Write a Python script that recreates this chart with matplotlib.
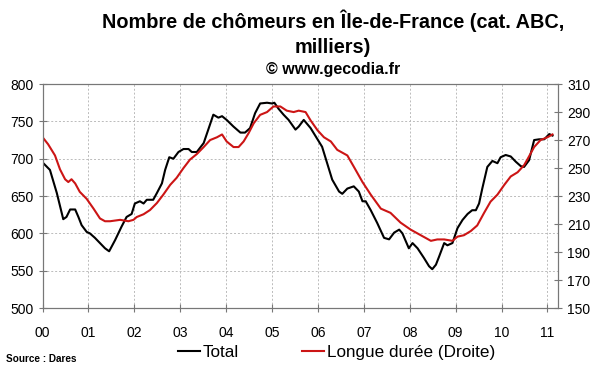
import matplotlib
matplotlib.use("Agg")
import matplotlib.pyplot as plt

plt.rcParams['font.family'] = ['Liberation Sans', 'DejaVu Sans']

# Total (axe gauche), milliers - annee depuis 2000
total_t = [0.00, 0.16, 0.31, 0.45, 0.52, 0.60, 0.71, 0.78, 0.85, 0.96, 1.03, 1.14, 1.25, 1.36,
           1.45, 1.58, 1.72, 1.83, 1.94, 2.01, 2.12, 2.20, 2.27, 2.41, 2.49, 2.60, 2.67, 2.76,
           2.85, 2.96, 3.07, 3.18, 3.25, 3.36, 3.51, 3.61, 3.72, 3.83, 3.91, 4.01, 4.16, 4.31,
           4.41, 4.52, 4.63, 4.74, 4.89, 5.00, 5.05, 5.14, 5.25, 5.36, 5.51, 5.58, 5.69, 5.84,
           5.95, 6.09, 6.20, 6.31, 6.46, 6.53, 6.64, 6.78, 6.89, 6.97, 7.04, 7.15, 7.29, 7.44,
           7.55, 7.66, 7.77, 7.84, 7.98, 8.06, 8.17, 8.31, 8.42, 8.49, 8.57, 8.64, 8.75, 8.82,
           8.93, 9.04, 9.15, 9.26, 9.36, 9.44, 9.51, 9.58, 9.69, 9.80, 9.91, 9.98, 10.09, 10.20,
           10.31, 10.42, 10.49, 10.60, 10.71, 10.82, 10.93, 11.04, 11.11]
total = [695, 685, 654, 619, 622, 632, 632, 622, 611, 602, 600, 594, 587, 580,
         576, 591, 609, 622, 626, 640, 643, 640, 645, 645, 654, 667, 685, 702,
         700, 709, 713, 713, 709, 709, 721, 739, 759, 755, 757, 752, 743, 735,
         735, 741, 761, 774, 775, 774, 775, 767, 759, 752, 739, 743, 752, 741,
         730, 716, 694, 672, 656, 653, 660, 663, 656, 643, 643, 631, 614, 594,
         592, 601, 605, 600, 580, 587, 580, 567, 556, 552, 558, 569, 587, 584,
         587, 607, 618, 626, 631, 631, 640, 660, 689, 697, 694, 702, 705, 703,
         696, 690, 689, 698, 725, 726, 726, 733, 731]

# Longue duree (axe droit)
ld_t = [0.00, 0.12, 0.27, 0.38, 0.49, 0.56, 0.63, 0.71, 0.81, 0.96, 1.11, 1.25, 1.36, 1.47,
        1.69, 1.87, 1.98, 2.05, 2.20, 2.34, 2.49, 2.63, 2.78, 2.92, 3.07, 3.21, 3.36, 3.51,
        3.65, 3.80, 3.91, 4.01, 4.16, 4.27, 4.38, 4.49, 4.60, 4.74, 4.89, 5.03, 5.18, 5.32,
        5.47, 5.58, 5.73, 5.84, 5.99, 6.13, 6.28, 6.42, 6.64, 6.78, 6.97, 7.15, 7.37, 7.58,
        7.80, 8.02, 8.24, 8.46, 8.60, 8.75, 8.93, 9.04, 9.18, 9.33, 9.47, 9.62, 9.76, 9.91,
        10.06, 10.20, 10.35, 10.49, 10.56, 10.71, 10.85, 11.00, 11.11]
ld = [272, 267, 259, 249, 242, 240, 242, 239, 233, 228, 221, 214, 212, 212,
      213, 212, 213, 215, 217, 220, 225, 231, 238, 243, 250, 256, 260, 265,
      270, 272, 274, 269, 265, 265, 269, 275, 282, 288, 290, 294, 294, 291,
      290, 291, 290, 284, 277, 272, 269, 263, 259, 251, 240, 231, 221, 218,
      211, 206, 202, 198, 199, 199, 198, 201, 202, 205, 209, 218, 226, 231,
      238, 244, 247, 252, 256, 265, 270, 272, 274]

year_labels = ['00', '01', '02', '03', '04', '05', '06', '07', '08', '09', '10', '11']

fig = plt.figure(figsize=(6, 3.72), dpi=100)
ax = fig.add_axes([0.071, 0.172, 0.859, 0.602])
ax2 = ax.twinx()

l1, = ax.plot(total_t, total, color='black', lw=1.5, label='Total')
l2, = ax2.plot(ld_t, ld, color='#cc1515', lw=1.5, label='Longue durée (Droite)')

ax.set_xlim(0, 11.23)
ax.set_ylim(500, 800)
ax2.set_ylim(150, 310)
ax.set_xticks(range(12))
ax.set_xticklabels(year_labels)
ax.set_yticks(range(500, 801, 50))
ax2.set_yticks(range(150, 311, 20))

ax.grid(True, color='#bbbbbb', ls=(0, (2, 2)), lw=0.7)
for a in (ax, ax2):
    for s in a.spines.values():
        s.set_color('#777777')
    a.tick_params(direction='inout', length=6, color='#777777', labelsize=10, width=0.8)
ax.tick_params(axis='x', pad=10)
ax.set_axisbelow(True)

# titre
fig.text(0.555, 0.924, "Nombre de chômeurs en Île-de-France (cat. ABC,", ha='center',
         fontsize=14.3, fontweight='bold')
fig.text(0.555, 0.857, "milliers)", ha='center', fontsize=14.3, fontweight='bold')
fig.text(0.555, 0.801, "© www.gecodia.fr", ha='center', fontsize=11.5, fontweight='bold')
fig.text(0.01, 0.028, "Source : Dares", fontsize=7.2, fontweight='bold')

fig.legend(handles=[l1, l2], loc='center left', bbox_to_anchor=(0.297, 0.052), ncol=2,
           frameon=False, fontsize=12.3, handlelength=1.25, handletextpad=0.2,
           columnspacing=3.7, borderpad=0, borderaxespad=0)

fig.savefig('out.png', dpi=100)
